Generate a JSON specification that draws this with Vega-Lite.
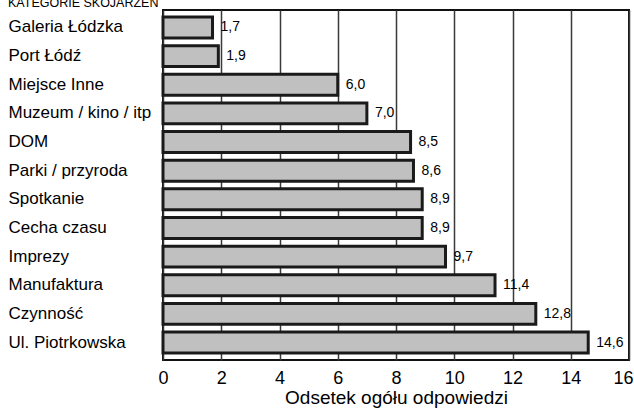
{
  "$schema": "https://vega.github.io/schema/vega-lite/v6.json",
  "width": 466,
  "height": 350,
  "autosize": {"type": "none"},
  "padding": {"left": 163, "top": 10, "right": 5, "bottom": 48},
  "background": "white",
  "title": {"text": "KATEGORIE SKOJARZEŃ", "anchor": "start", "frame": "group", "dx": -155, "offset": 0, "dy": 9, "baseline": "alphabetic", "fontSize": 12.5, "fontWeight": "normal", "font": "Liberation Sans", "color": "black"},
  "data": {"values": [
    {"kategoria": "Galeria Łódzka", "wartosc": 1.7},
    {"kategoria": "Port Łódź", "wartosc": 1.9},
    {"kategoria": "Miejsce Inne", "wartosc": 6.0},
    {"kategoria": "Muzeum / kino / itp", "wartosc": 7.0},
    {"kategoria": "DOM", "wartosc": 8.5},
    {"kategoria": "Parki / przyroda", "wartosc": 8.6},
    {"kategoria": "Spotkanie", "wartosc": 8.9},
    {"kategoria": "Cecha czasu", "wartosc": 8.9},
    {"kategoria": "Imprezy", "wartosc": 9.7},
    {"kategoria": "Manufaktura", "wartosc": 11.4},
    {"kategoria": "Czynność", "wartosc": 12.8},
    {"kategoria": "Ul. Piotrkowska", "wartosc": 14.6}
  ]},
  "encoding": {
    "y": {"field": "kategoria", "type": "nominal", "sort": null,
      "scale": {"paddingInner": 0.27, "paddingOuter": 0.245},
      "axis": {"title": null, "labelAlign": "left", "labelPadding": 155, "tickSize": 0, "ticks": false, "domain": false, "labelFontSize": 17, "labelFont": "Liberation Sans", "labelColor": "black", "labelLimit": 200}},
    "x": {"field": "wartosc", "type": "quantitative",
      "scale": {"domain": [0, 16], "nice": false},
      "axis": {"title": "Odsetek ogółu odpowiedzi", "values": [0,2,4,6,8,10,12,14,16], "format": "d", "grid": true, "gridColor": "#3a3a3a", "gridWidth": 1.5, "gridOpacity": 1, "ticks": false, "tickSize": 0, "domain": false, "labelPadding": 9, "labelFontSize": 18, "labelFont": "Liberation Sans", "labelColor": "black", "titleFontSize": 19, "titleFont": "Liberation Sans", "titleFontWeight": "normal", "titleColor": "black", "titlePadding": 1, "labelFlush": false,
        "labelAlign": {"condition": {"test": "datum.value === 16", "value": "right"}, "value": "center"},
        "labelOffset": {"condition": {"test": "datum.value === 16", "value": 4}, "value": 0}}}
  },
  "layer": [
    {"mark": {"type": "bar", "fill": "#c0c0c0", "stroke": "#1a1a1a", "strokeWidth": 3}},
    {"mark": {"type": "text", "align": "left", "dx": 8, "baseline": "middle", "fontSize": 14, "font": "Liberation Sans", "color": "black"},
     "encoding": {"text": {"field": "wartosc", "type": "quantitative", "format": ".1f"}}}
  ],
  "config": {
    "locale": {"number": {"decimal": ",", "thousands": " ", "grouping": [3], "currency": ["", ""]}},
    "view": {"stroke": "#111111", "strokeWidth": 2}
  }
}
